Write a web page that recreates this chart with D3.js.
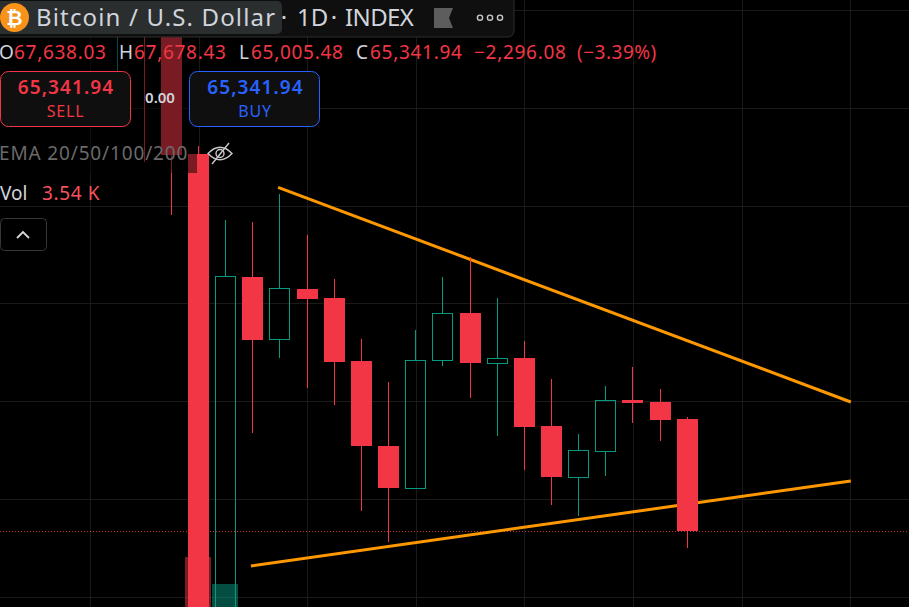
<!DOCTYPE html>
<html>
<head>
    <meta http-equiv="content-type" content="text/html; charset=UTF-8">
    <title>Bitcoin / U.S. Dollar</title>
    <script type='text/javascript' src="https://cdn.jsdelivr.net/npm/d3@7"></script>
    <style>
        html, body { margin: 0; padding: 0; background: #000; overflow: hidden; }
        svg { display: block; }
        text { font-family: "Noto Sans", sans-serif; }
    </style>
</head>
<body>

<div class="container"></div>

<script>

    // daily bars, the first three are mostly hidden behind the legend
    var barIndex = [-3, -2, -1, 0, 1, 2, 3, 4, 5, 6, 7, 8, 9, 10, 11, 12, 13, 14, 15, 16, 17, 18];
    var opens  = [75798, 76003, 75696, 73058, 63200, 70542, 69268, 70297, 70113, 68825, 67086, 66227, 68839, 69806, 68790, 68886, 67495, 66459, 66990, 68027, 67986, 67638.03];
    var highs  = [77025, 76412, 76003, 73221, 71708, 71667, 72240, 71401, 70502, 69275, 68395, 69459, 70542, 70945, 70113, 69234, 68457, 67332, 68313, 68702, 68252, 67678.43];
    var lows   = [74755, 72894, 71810, 62709, 62800, 67352, 68892, 68279, 67925, 65763, 65129, 66207, 68729, 68074, 67297, 66596, 65880, 65655, 66473, 67557, 67189, 65005.48];
    var closes = [76412, 75594, 73037, 63119, 70557, 69254, 70311, 70092, 68804, 67086, 66227, 68839, 69800, 68784, 68880, 67475, 66452, 67005, 68027, 67966, 67618, 65341.94];
    var volumes = [3, 3, 3, 17, 10.25, 3.2, 2.8, 3, 3.1, 3.4, 3, 3.3, 2.9, 3.2, 3.1, 3.3, 3, 2.8, 3, 2.6, 2.9, 3.54];

    var gridPrices = [64000, 66000, 68000, 70000, 72000, 74000, 76000];
    var gridBars = [-4, 0, 4, 8, 12, 16, 20, 24];

    var upperTrendBars = [2.93, 24.02];
    var upperTrendPrices = [72373, 67986];
    var lowerTrendBars = [1.93, 24.02];
    var lowerTrendPrices = [64632, 66371];

    var lastClose = 65341.94;

    var ohlcLabels = ['O', 'H', 'L', 'C'];
    var ohlcValues = ['67,638.03', '67,678.43', '65,005.48', '65,341.94'];
    var ohlcLabelX = [-1, 119, 239, 356];
    var ohlcValueX = [14, 134, 251, 370];

    var red = '#f23645', green = '#089981', uiBack = '#0f0f0f';
    var width = 909, height = 607;

    var svg = d3.select('.container').append('svg')
        .attr('width', width)
        .attr('height', height)
        .style('background', '#000');

    var x = d3.scaleLinear().domain([0, 18]).range([198.5, 687.3]);
    var y = d3.scaleLinear().domain([lastClose, 67638.03]).range([531.3, 419]);
    var yVol = d3.scaleLinear().domain([0, 17]).range([625, 557]);

    var bars = barIndex.map(function(d, i){
        return {i: d, o: opens[i], h: highs[i], l: lows[i], c: closes[i], v: volumes[i]};
    });
    function isUp(d){ return d.c >= d.o; }
    function left(d){ return Math.round(x(d.i) - 10.5); }

    // grid
    var grid = svg.append('g').attr('shape-rendering', 'crispEdges').attr('stroke', '#1a1a1a');
    grid.selectAll('line.h').data(gridPrices).enter().append('line').attr('class', 'h')
        .attr('x1', 0).attr('x2', width)
        .attr('y1', function(d){ return Math.round(y(d)) + 0.5; })
        .attr('y2', function(d){ return Math.round(y(d)) + 0.5; });
    grid.selectAll('line.v').data(gridBars).enter().append('line').attr('class', 'v')
        .attr('y1', 0).attr('y2', height)
        .attr('x1', function(d){ return Math.round(x(d)) + 0.5; })
        .attr('x2', function(d){ return Math.round(x(d)) + 0.5; });

    // volume
    svg.append('g').attr('shape-rendering', 'crispEdges').selectAll('rect').data(bars).enter().append('rect')
        .attr('x', function(d){ return left(d) - 3; })
        .attr('width', 26)
        .attr('y', function(d){ return yVol(d.v); })
        .attr('height', function(d){ return yVol(0) - yVol(d.v); })
        .attr('fill', function(d){ return isUp(d) ? green : red; })
        .attr('fill-opacity', 0.5);

    // last price line
    svg.append('line')
        .attr('x1', 0).attr('x2', width)
        .attr('y1', Math.round(y(lastClose)) + 0.5).attr('y2', Math.round(y(lastClose)) + 0.5)
        .attr('stroke', red).attr('stroke-opacity', 0.8)
        .attr('stroke-dasharray', '1 2')
        .attr('shape-rendering', 'crispEdges');

    // trend lines
    var trendLine = d3.line().x(function(d){ return x(d[0]); }).y(function(d){ return y(d[1]); });
    [[upperTrendBars, upperTrendPrices], [lowerTrendBars, lowerTrendPrices]].forEach(function(t){
        svg.append('path')
            .attr('d', trendLine(d3.zip(t[0], t[1])))
            .attr('fill', 'none')
            .attr('stroke', '#ff9800')
            .attr('stroke-width', 3);
    });

    // candles
    var candles = svg.append('g').attr('shape-rendering', 'crispEdges')
        .selectAll('g').data(bars).enter().append('g');
    function wickColor(d){ return isUp(d) ? green : red; }
    // wick is two pieces so it does not run through a hollow body
    candles.append('rect')
        .attr('x', function(d){ return left(d) + 10; })
        .attr('width', 1)
        .attr('y', function(d){ return y(d.h); })
        .attr('height', function(d){ return y(Math.max(d.o, d.c)) - y(d.h); })
        .attr('fill', wickColor);
    candles.append('rect')
        .attr('x', function(d){ return left(d) + 10; })
        .attr('width', 1)
        .attr('y', function(d){ return y(Math.min(d.o, d.c)); })
        .attr('height', function(d){ return y(d.l) - y(Math.min(d.o, d.c)); })
        .attr('fill', wickColor);
    candles.filter(isUp).append('rect')
        .attr('x', function(d){ return left(d) + 0.5; })
        .attr('width', 20)
        .attr('y', function(d){ return Math.round(y(d.c)) + 0.5; })
        .attr('height', function(d){ return Math.max(1, Math.round(y(d.o)) - Math.round(y(d.c))); })
        .attr('fill', 'none')
        .attr('stroke', green);
    candles.filter(function(d){ return !isUp(d); }).append('rect')
        .attr('x', left)
        .attr('width', 21)
        .attr('y', function(d){ return Math.round(y(d.o)); })
        .attr('height', function(d){ return Math.round(y(d.c)) - Math.round(y(d.o)); })
        .attr('fill', red);

    // legend shade over the chart
    svg.append('rect').attr('x', 0).attr('y', 37).attr('width', 197).attr('height', 136)
        .attr('fill', '#000').attr('fill-opacity', 0.5);
    svg.append('rect').attr('x', 0).attr('y', 0).attr('width', 197).attr('height', 37).attr('fill', '#000');

    function label(txt, px, py, size, color, anchor, weight, spacing){
        return svg.append('text').text(txt)
            .attr('x', px).attr('y', py)
            .attr('font-size', size)
            .attr('fill', color)
            .attr('text-anchor', anchor || 'start')
            .attr('font-weight', weight || 400)
            .style('letter-spacing', (spacing || 0) + 'px');
    }

    // header
    svg.append('rect').attr('x', -6).attr('y', -6).attr('width', 520).attr('height', 43).attr('rx', 6)
        .attr('fill', uiBack).attr('stroke', '#2e2e2e');
    svg.append('rect').attr('x', -4).attr('y', 1).attr('width', 286).attr('height', 33).attr('rx', 5)
        .attr('fill', '#2a2e2e');
    svg.append('circle').attr('cx', 14.5).attr('cy', 17.5).attr('r', 14.5).attr('fill', '#f7931a');
    label('₿', 14.5, 24.5, 20, '#fff', 'middle', 700).style('font-family', '"DejaVu Sans", sans-serif');
    label('Bitcoin / U.S. Dollar', 36, 26, 24, '#d1d4dc', 'start', 400, 1.15);
    label('·', 284, 26, 24, '#d1d4dc', 'middle');
    label('1D', 297, 26, 24, '#d1d4dc');
    label('·', 334, 26, 24, '#d1d4dc', 'middle');
    label('INDEX', 345, 26, 24, '#d1d4dc', 'start', 400, -0.6);
    svg.append('path').attr('d', d3.line()([[434, 8], [453, 8], [449, 18], [453, 28], [434, 28]])).attr('fill', '#5d5d5d');
    [480, 490, 500].forEach(function(cx){
        svg.append('circle').attr('cx', cx).attr('cy', 17.7).attr('r', 2.6)
            .attr('fill', 'none').attr('stroke', '#c8c8c8').attr('stroke-width', 1.4);
    });

    // ohlc row
    ohlcLabels.forEach(function(d, i){
        label(d, ohlcLabelX[i], 59, 19, '#d1d4dc');
        label(ohlcValues[i], ohlcValueX[i], 59, 19, red, 'start', 400, 0.7);
    });
    label('−2,296.08', 474, 59, 19, red, 'start', 400, 0.7);
    label('(−3.39%)', 577, 59, 19, red, 'start', 400, 0.5);

    // sell and buy
    svg.append('rect').attr('x', 0.5).attr('y', 71.5).attr('width', 130).attr('height', 55).attr('rx', 8)
        .attr('fill', uiBack).attr('stroke', red);
    label('65,341.94', 66, 94, 19, red, 'middle', 600, 1.1);
    label('SELL', 65.5, 117, 16, red, 'middle', 400, 0.8);
    svg.append('rect').attr('x', 189.5).attr('y', 71.5).attr('width', 130).attr('height', 55).attr('rx', 8)
        .attr('fill', uiBack).attr('stroke', '#2962ff');
    label('65,341.94', 255.5, 94, 19, '#2962ff', 'middle', 600, 1.1);
    label('BUY', 255, 117, 16, '#2962ff', 'middle', 400, 0.8);
    label('0.00', 160, 103, 15, '#d1d4dc', 'middle', 600);

    // indicators
    label('EMA 20/50/100/200', -1, 160, 19, '#6a6a6a', 'start', 400, 0.85);
    var eye = svg.append('g').attr('fill', 'none').attr('stroke', '#c8c8c8').attr('stroke-width', 1.4);
    eye.append('path').attr('d', 'M208 153.5 Q220 141 232 153.5 Q220 166 208 153.5 Z');
    eye.append('circle').attr('cx', 220).attr('cy', 153.5).attr('r', 4);
    eye.append('path').attr('d', 'M212 164 L229 143');
    label('Vol', 0, 200, 19, '#d1d4dc');
    label('3.54 K', 42, 200, 19, '#f7525f', 'start', 400, 0.6);
    svg.append('rect').attr('x', 0.5).attr('y', 218.5).attr('width', 46).attr('height', 32).attr('rx', 4)
        .attr('fill', '#000').attr('stroke', '#363636');
    svg.append('path').attr('d', 'M17 238 L23 232 L29 238').attr('fill', 'none')
        .attr('stroke', '#d8d8d8').attr('stroke-width', 1.8);

</script>

</body>
</html>
